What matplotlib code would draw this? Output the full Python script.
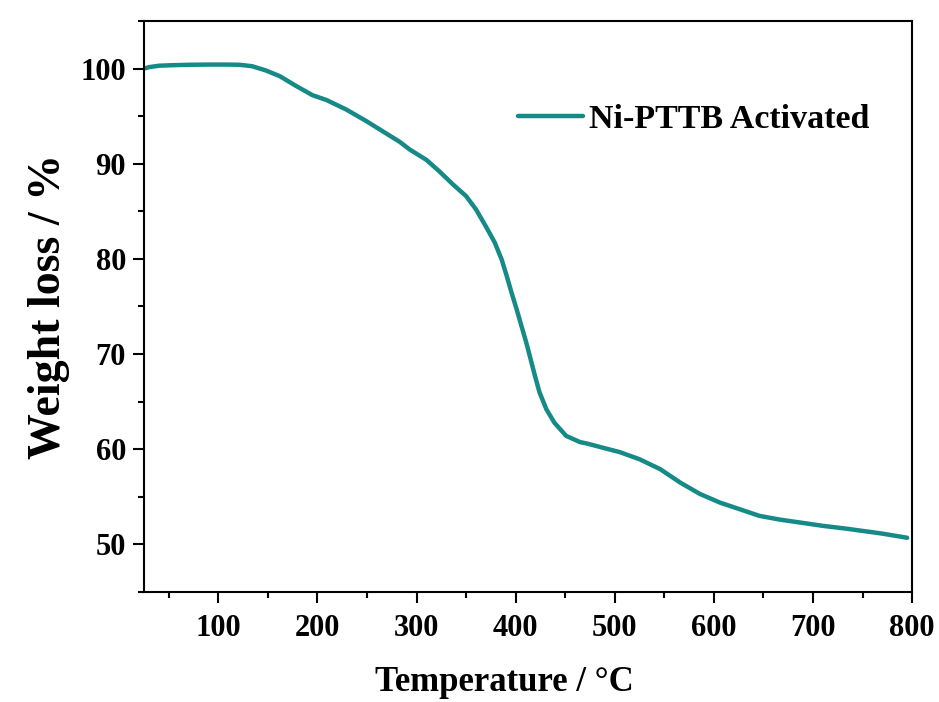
import matplotlib
matplotlib.use("Agg")
import matplotlib.pyplot as plt
from matplotlib.ticker import MultipleLocator

temperature = [25, 30, 40, 55, 71, 90, 110, 121, 134, 148, 162, 178, 195, 209, 229,
               249, 266, 283, 293, 310, 323, 337, 350, 360, 370, 379, 386, 391,
               396, 401, 406, 411, 415, 419, 424, 431, 439, 451, 465, 472, 492,
               505, 525, 546, 566, 586, 606, 626, 646, 667, 687, 710, 734, 769, 795]
weight = [100.0, 100.15, 100.3, 100.36, 100.4, 100.42, 100.42, 100.4, 100.25, 99.8,
          99.2, 98.2, 97.2, 96.7, 95.7, 94.5, 93.4, 92.3, 91.5, 90.4, 89.2, 87.8,
          86.6, 85.2, 83.4, 81.7, 79.9, 78.2, 76.4, 74.7, 72.9, 71.1, 69.5, 67.9,
          66.0, 64.2, 62.8, 61.4, 60.75, 60.6, 60.05, 59.7, 58.95, 57.9, 56.5, 55.3,
          54.4, 53.7, 53.0, 52.6, 52.3, 51.95, 51.65, 51.15, 50.7]
series_label = "Ni-PTTB Activated"
x_ticks = [100, 200, 300, 400, 500, 600, 700, 800]
y_ticks = [50, 60, 70, 80, 90, 100]

plt.rcParams['font.family'] = ['Liberation Serif', 'DejaVu Serif']
plt.rcParams['font.weight'] = 'bold'

fig = plt.figure(figsize=(9.39, 7.02), dpi=100)
ax = fig.add_axes([0.1534, 0.1567, 0.8179, 0.8134])

ax.plot(temperature, weight, color='#168a86', lw=3.2, solid_capstyle='round',
        solid_joinstyle='round', label=series_label)

ax.set_xlim(25, 800)
ax.set_ylim(45, 105)
ax.set_xticks(x_ticks)
ax.set_yticks(y_ticks)
ax.xaxis.set_minor_locator(MultipleLocator(50))
ax.yaxis.set_minor_locator(MultipleLocator(5))

for s in ax.spines.values():
    s.set_linewidth(1.5)
ax.tick_params(which='major', direction='out', length=8, width=1.5, labelsize=22)
ax.tick_params(which='minor', direction='out', length=4.5, width=1.5)
ax.tick_params(axis='x', which='major', pad=8)
ax.tick_params(axis='y', which='major', pad=5)
for lab in ax.get_xticklabels() + ax.get_yticklabels():
    lab.set_fontweight('bold')

ax.set_xlabel("Temperature / °C", fontsize=25, fontweight='bold')
ax.set_ylabel("Weight loss / %", fontsize=33, fontweight='bold')
ax.xaxis.set_label_coords(0.469, -0.13)
ax.yaxis.set_label_coords(-0.097, 0.5)

leg = ax.legend(loc='center right', bbox_to_anchor=(0.945, 0.828), frameon=False,
                prop={'size': 24.5, 'weight': 'bold'}, handlelength=1.9,
                handletextpad=0.2, borderpad=0, borderaxespad=0)

fig.savefig("out.png", dpi=100)
